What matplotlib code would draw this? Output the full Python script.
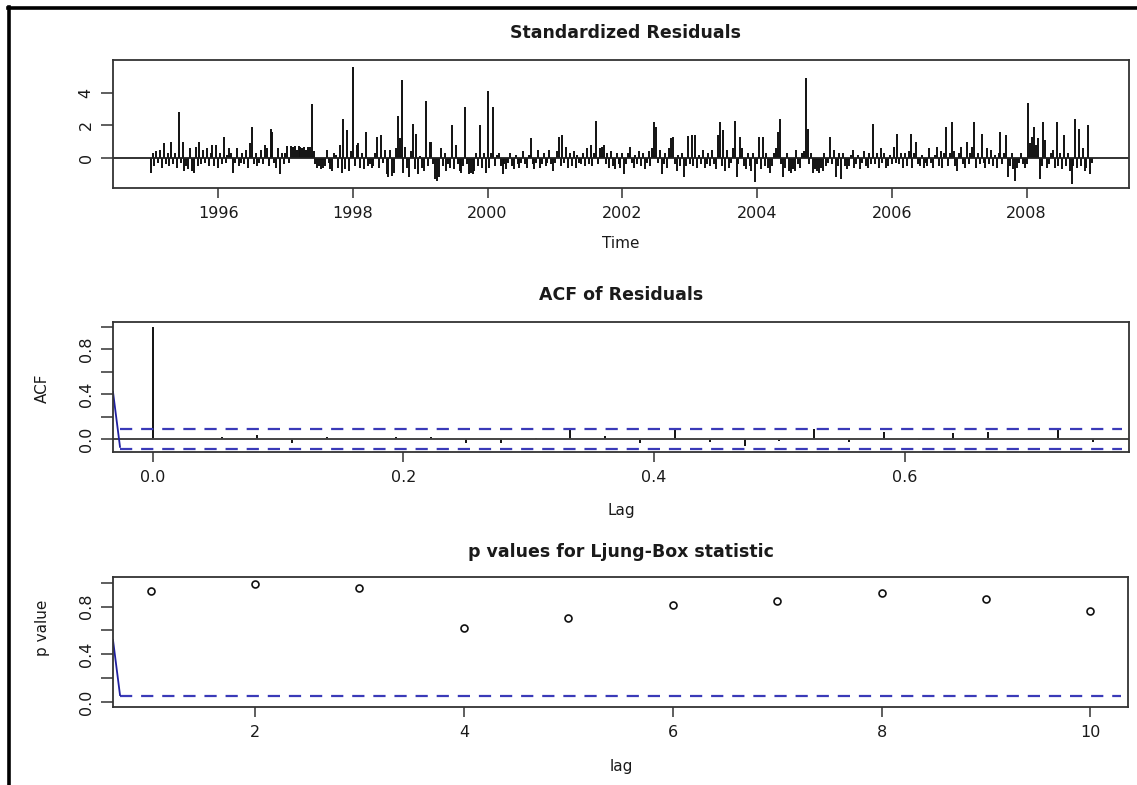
import matplotlib
matplotlib.use('Agg')
import matplotlib.pyplot as plt
import numpy as np
from matplotlib.lines import Line2D

plt.rcParams['font.family'] = ['DejaVu Sans']

W, H = 1137, 785

# ---------------- data ----------------
start_year = 1995
freq = 36  # dekadal series

res_1995 = [-0.9, 0.3, -0.5, 0.4, -0.3, 0.5, -0.6, 0.9, -0.4, 0.3, -0.5, 1.0, -0.4, 0.3, -0.6, 2.8, -0.3, 1.0,
            -0.8, -0.5, -0.7, 0.6, -0.8, -0.9, 0.65, -0.5, 1.0, -0.4, 0.5, -0.3, 0.6, -0.5, 0.3, 0.8, -0.5, 0.8]
res_1996 = [-0.6, 0.3, -0.4, 1.3, -0.3, 0.2, 0.6, 0.3, -0.9, -0.3, 0.6, -0.5, -0.3, 0.3, -0.4, 0.5, -0.6, 0.9,
            1.9, -0.4, 0.3, -0.5, -0.3, 0.5, -0.4, 0.8, 0.6, -0.5, 1.8, 1.6, -0.3, -0.6, 0.6, -1.0, 0.3, -0.4]
res_1997 = [0.3, 0.75, -0.3, 0.75, 0.7, 0.75, 0.5, 0.75, 0.7, 0.6, 0.7, 0.5, 0.7, 0.7, 3.3, 0.4, -0.4, -0.6,
            -0.5, -0.7, -0.6, -0.5, 0.5, -0.3, -0.7, -0.8, 0.3, 0.2, -0.6, 0.8, -0.9, 2.4, -0.7, 1.7, -0.8, 0.4]
res_1998 = [5.6, -0.5, 0.8, 0.9, -0.6, 0.3, -0.7, 1.6, -0.5, -0.4, -0.6, -0.5, 0.3, 1.3, -0.6, 1.4, -0.3, 0.5,
            -1.0, -1.2, 0.5, -1.1, -0.9, 0.6, 2.6, 1.2, 4.8, -0.9, 0.7, -0.6, -1.2, 0.4, 2.1, -0.7, 1.5, -1.0]
res_1999 = [0.1, -0.6, -0.8, 3.5, -0.5, 1.0, 1.0, -0.4, -1.3, -1.4, -1.2, 0.6, -0.5, 0.3, -0.8, -0.4, -0.6, 2.0,
            -0.7, 0.8, -0.4, -0.8, -0.9, -0.5, 3.1, -0.4, -1.0, -0.9, -1.0, -0.8, 0.3, -0.5, 2.0, -0.6, 0.3, -0.9]
res_2000 = [4.1, -0.6, 0.3, 3.1, -0.5, 0.2, 0.3, -0.5, -1.0, -0.4, -0.7, -0.3, 0.3, -0.5, -0.7, 0.2, -0.4, -0.6,
            -0.3, 0.4, -0.4, -0.6, 0.2, 1.2, -0.4, -0.7, -0.3, 0.5, -0.6, -0.4, 0.3, -0.5, -0.3, 0.5, -0.4, -0.8]
res_2001 = [-0.3, 0.4, 1.3, -0.5, 1.4, -0.3, 0.7, -0.6, 0.3, -0.5, 0.4, -0.6, 0.2, -0.3, -0.4, 0.3, -0.5, 0.6,
            -0.4, 0.8, -0.5, 0.3, 2.3, -0.4, 0.6, 0.7, 0.8, -0.4, 0.3, -0.6, 0.4, -0.5, -0.7, 0.3, -0.4, -0.6]
res_2002 = [0.3, -1.0, -0.4, 0.3, 0.7, -0.3, -0.6, 0.2, -0.4, 0.4, -0.5, 0.3, -0.7, -0.3, 0.4, -0.5, 0.6, 2.2,
            1.9, -0.3, 0.5, -1.0, -0.4, 0.3, -0.6, 0.6, 1.2, 1.3, -0.4, -0.8, 0.2, -0.5, 0.3, -1.2, -0.5, 1.35]
res_2003 = [-0.4, 1.4, -0.5, 1.4, -0.6, 0.2, -0.4, 0.5, -0.6, -0.4, 0.3, -0.5, 0.5, -0.4, -0.7, 1.4, 2.2, -0.5,
            1.7, -0.8, 0.5, -0.6, -0.3, 0.6, 2.3, -1.2, -0.4, 1.3, 0.6, -0.5, -0.7, 0.3, -0.5, -0.8, 0.3, -1.5]
res_2004 = [-0.4, 1.3, -0.7, 1.3, -0.5, 0.3, -0.6, -0.9, -0.5, 0.3, 0.6, 1.6, 2.4, -0.4, -1.2, -0.6, 0.3, -0.8,
            -0.9, -0.7, -0.8, 0.5, -0.4, -0.6, 0.3, 0.4, 4.9, 1.8, -0.4, 0.3, -0.9, -0.7, -0.8, -0.9, -0.6, -0.8]
res_2005 = [0.3, -0.5, -0.3, 1.3, -0.4, 0.5, -1.2, -0.5, 0.3, -1.3, 0.3, -0.5, -0.7, -0.5, 0.2, 0.5, -0.6, -0.4,
            0.2, -0.7, -0.3, 0.4, -0.5, -0.6, 0.3, -0.4, 2.1, -0.4, 0.3, -0.6, 0.6, -0.3, 0.3, -0.6, -0.5, 0.2]
res_2006 = [-0.4, 0.7, -0.3, 1.5, -0.4, 0.3, -0.6, 0.3, -0.5, 0.4, 1.5, -0.6, 0.3, 1.0, -0.4, -0.5, 0.2, -0.6,
            -0.3, -0.5, 0.6, -0.3, -0.6, 0.2, 0.7, -0.5, 0.4, -0.6, 0.3, 1.9, -0.5, 0.3, 2.2, 0.4, -0.5, -0.8]
res_2007 = [0.3, 0.7, -0.4, -0.6, 1.0, -0.4, 0.3, 0.7, 2.2, -0.6, 0.3, -0.4, 1.5, -0.3, -0.6, 0.6, -0.4, 0.5,
            -0.5, 0.2, -0.6, 0.3, 1.6, -0.4, 0.3, 1.4, -1.2, -0.5, 0.3, -0.7, -1.4, -0.6, -0.3, 0.3, -0.4, -0.6]
res_2008 = [-0.4, 3.4, 0.9, 1.3, 1.9, 0.8, 1.2, -1.3, -0.5, 2.2, 1.1, -0.6, -0.4, 0.3, 0.5, -0.6, 2.2, -0.5,
            0.3, -0.7, 1.4, -0.5, 0.3, -0.8, -1.6, -0.5, 2.4, -0.6, 1.8, -0.5, 0.6, -0.8, -0.6, 2.0, -1.0, -0.3]

acf_values = [1.0, 0.0, 0.02, 0.04, -0.04, 0.02, 0.0, 0.02, 0.02, -0.04, -0.04, 0.01, 0.095, 0.03,
              -0.04, 0.095, -0.03, -0.06, -0.02, 0.09, -0.03, 0.06, -0.005, 0.05, 0.06, 0.0, 0.09, -0.025]
acf_ci = 0.0873

lb_lags = [1, 2, 3, 4, 5, 6, 7, 8, 9, 10]
lb_pvalues = [0.926, 0.99, 0.955, 0.62, 0.70, 0.81, 0.85, 0.91, 0.86, 0.76]
lb_level = 0.05

year_ticks = [1996, 1998, 2000, 2002, 2004, 2006, 2008]
acf_xticks = [0.0, 0.2, 0.4, 0.6]
lag_ticks = [2, 4, 6, 8, 10]

# artefact strokes at left edge of lower panels (start / end heights)
acf_stroke_y = [0.42, -0.07]
p_stroke_y = [0.52, 0.06]

residuals = (res_1995 + res_1996 + res_1997 + res_1998 + res_1999 + res_2000 + res_2001 +
             res_2002 + res_2003 + res_2004 + res_2005 + res_2006 + res_2007 + res_2008)
t = start_year + np.arange(len(residuals)) / freq
lags = np.arange(len(acf_values)) / freq

# ---------------- figure ----------------
fig = plt.figure(figsize=(W / 100, H / 100), dpi=100)
fig.patch.set_facecolor('white')


def axrect(l, t_, r, b):
    return [l / W, 1 - b / H, (r - l) / W, (b - t_) / H]


def fx(x):
    return x / W


def fy(y):
    return 1 - y / H


BOX = '#333333'
TXT = '#1a1a1a'
BLUE = '#3a3ab8'


def style(ax):
    for s in ax.spines.values():
        s.set_color(BOX)
        s.set_linewidth(1.3)
    ax.tick_params(direction='out', length=7, width=1.1, color=BOX,
                   labelsize=11.5, labelcolor=TXT, pad=6)
    ax.tick_params(axis='y', labelrotation=90, length=9, pad=5)
    for lab in ax.get_yticklabels():
        lab.set_va('center')


# --- panel 1 ---
ax1 = fig.add_axes(axrect(113, 60, 1129, 188))
ax1.vlines(t, 0, residuals, color='#111111', lw=1.4)
ax1.axhline(0, color='#222222', lw=1.3)
ax1.set_xlim(1994.44, 2009.52)
ax1.set_ylim(-1.85, 6.02)
ax1.set_xticks(year_ticks)
ax1.set_xticklabels([str(y) for y in year_ticks])
ax1.set_yticks([0, 2, 4])
ax1.set_yticklabels(['0', '2', '4'])
style(ax1)

# --- panel 2 ---
ax2 = fig.add_axes(axrect(113, 322, 1129, 452))
ax2.vlines(lags, 0, acf_values, color='#111111', lw=1.4)
ax2.axhline(0, color='#444444', lw=1.4)
ax2.set_xlim(-0.0317, 0.779)
ax2.set_ylim(-0.116, 1.045)
x0 = (120 - 113) / (1129 - 113)
ax2.axhline(acf_ci, xmin=x0, xmax=0.993, color=BLUE, lw=1.6, dashes=(5.5, 4))
ax2.axhline(-acf_ci, xmin=x0, xmax=0.993, color=BLUE, lw=1.6, dashes=(5.5, 4))
xl = ax2.get_xlim()
ax2.plot([xl[0], xl[0] + (xl[1] - xl[0]) * x0], acf_stroke_y, color='#2020a0', lw=1.3)
ax2.set_xticks(acf_xticks)
ax2.set_xticklabels(['0.0', '0.2', '0.4', '0.6'])
ax2.set_yticks([0, 0.2, 0.4, 0.6, 0.8, 1.0])
ax2.set_yticklabels(['0.0', '', '0.4', '', '0.8', ''])
style(ax2)

# --- panel 3 ---
ax3 = fig.add_axes(axrect(113, 577, 1128, 707))
ax3.plot(lb_lags, lb_pvalues, linestyle='none', marker='o', ms=5, mfc='none',
         mec='#111111', mew=1.2)
ax3.set_xlim(0.64, 10.36)
ax3.set_ylim(-0.04, 1.047)
x0p = (120 - 113) / (1128 - 113)
ax3.axhline(lb_level, xmin=x0p, xmax=0.993, color=BLUE, lw=1.6, dashes=(5.5, 4))
xl3 = ax3.get_xlim()
ax3.plot([xl3[0], xl3[0] + (xl3[1] - xl3[0]) * x0p], p_stroke_y, color='#2020a0', lw=1.3)
ax3.set_xticks(lag_ticks)
ax3.set_xticklabels([str(v) for v in lag_ticks])
ax3.set_yticks([0, 0.2, 0.4, 0.6, 0.8, 1.0])
ax3.set_yticklabels(['0.0', '', '0.4', '', '0.8', ''])
style(ax3)

# --- titles / labels ---
tkw = dict(ha='center', va='center', color=TXT, fontweight='bold', fontsize=12.5)
fig.text(fx(625), fy(33), 'Standardized Residuals', **tkw)
fig.text(fx(621), fy(295), 'ACF of Residuals', **tkw)
fig.text(fx(621), fy(552), 'p values for Ljung-Box statistic', **tkw)
lkw = dict(ha='center', va='center', color=TXT, fontsize=11)
fig.text(fx(621), fy(244), 'Time', **lkw)
fig.text(fx(621), fy(511), 'Lag', **lkw)
fig.text(fx(621), fy(766), 'lag', **lkw)
fig.text(fx(42), fy(388), 'ACF', rotation=90, **lkw)
fig.text(fx(42), fy(628), 'p value', rotation=90, **lkw)

# --- outer frame (top and left edges) ---
fig.add_artist(Line2D([fx(8), 1.0], [fy(8), fy(8)], transform=fig.transFigure, color='black', lw=2.6))
fig.add_artist(Line2D([fx(9), fx(9)], [fy(7), 0.0], transform=fig.transFigure, color='black', lw=2.6))

fig.savefig('out.png', dpi=100, facecolor='white')
